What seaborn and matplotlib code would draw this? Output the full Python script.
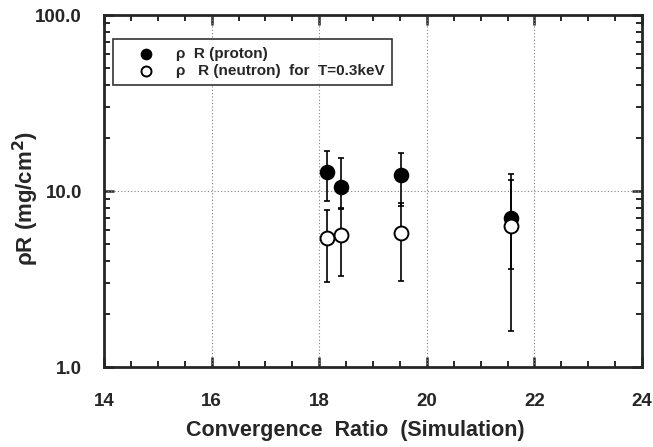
import matplotlib
matplotlib.use("Agg")
import matplotlib.pyplot as plt
import matplotlib.ticker as mticker
import seaborn as sns
import pandas as pd
import numpy as np

# Data
cr_proton = [18.15, 18.4, 19.52, 21.57]
rr_proton = [12.8, 10.5, 12.3, 7.0]
proton_hi = [16.8, 15.4, 16.4, 12.5]
proton_lo = [8.8, 7.9, 8.2, 3.6]

cr_neutron = [18.15, 18.4, 19.52, 21.57]
rr_neutron = [5.4, 5.6, 5.8, 6.3]
neutron_hi = [7.8, 8.0, 8.6, 11.5]
neutron_lo = [3.05, 3.3, 3.1, 1.6]

x_ticks = [14, 16, 18, 20, 22, 24]
y_ticks = [1.0, 10.0, 100.0]

sns.set_style("ticks")
plt.rcParams['font.family'] = ['Liberation Sans', 'DejaVu Sans']
plt.rcParams['font.weight'] = 'bold'

fig = plt.figure(figsize=(6.53, 4.47), dpi=100)
ax = fig.add_axes([104 / 653, 1 - 367 / 447, 538 / 653, 352 / 447])

dfp = pd.DataFrame({"x": cr_proton, "y": rr_proton})
dfn = pd.DataFrame({"x": cr_neutron, "y": rr_neutron})

ax.set_yscale("log")

# error bars
ax.errorbar(cr_proton, rr_proton,
            yerr=[np.array(rr_proton) - np.array(proton_lo), np.array(proton_hi) - np.array(rr_proton)],
            fmt='none', ecolor='black', elinewidth=1.2, capsize=2.5, capthick=1.2, zorder=2)
ax.errorbar(cr_neutron, rr_neutron,
            yerr=[np.array(rr_neutron) - np.array(neutron_lo), np.array(neutron_hi) - np.array(rr_neutron)],
            fmt='none', ecolor='black', elinewidth=1.2, capsize=2.5, capthick=1.2, zorder=2)

sns.scatterplot(data=dfp, x="x", y="y", ax=ax, marker='o', s=100, color='black',
                edgecolor='black', linewidth=1.2, label="\u03c1  R (proton)", zorder=3)
sns.scatterplot(data=dfn, x="x", y="y", ax=ax, marker='o', s=100, facecolor='white',
                edgecolor='black', linewidth=1.4, label="\u03c1   R (neutron)  for  T=0.3keV", zorder=3)

ax.set_xlim(14, 24)
ax.set_ylim(1, 100)
ax.set_xticks(x_ticks)
ax.xaxis.set_minor_locator(mticker.MultipleLocator(0.5))
ax.set_yticks(y_ticks)
ax.yaxis.set_major_formatter(mticker.FuncFormatter(lambda v, p: f"{v:.1f}"))
ax.yaxis.set_minor_locator(mticker.LogLocator(base=10, subs=np.arange(2, 10)))
ax.yaxis.set_minor_formatter(mticker.NullFormatter())

ax.tick_params(which='both', direction='in', top=True, right=True)
ax.tick_params(which='major', length=7, width=1.8, labelsize=13.5)
ax.tick_params(axis='x', which='major', pad=19)
ax.tick_params(axis='y', which='major', pad=16)
ax.tick_params(which='minor', length=4, width=1.4)
for s in ax.spines.values():
    s.set_linewidth(2)

for xv in [16, 18, 20, 22]:
    ax.axvline(xv, color='gray', linestyle=(0, (1, 2)), linewidth=0.8, zorder=1)
ax.axhline(10, color='gray', linestyle=(0, (1, 2)), linewidth=0.8, zorder=1)

for lab in ax.get_xticklabels() + ax.get_yticklabels():
    lab.set_fontweight('bold')

ax.set_xlabel("Convergence  Ratio  (Simulation)", fontsize=15.5, fontweight='bold')
ax.xaxis.set_label_coords(0.467, -0.15)
ax.xaxis.label.set_va('top')
ax.set_ylabel("\u03c1R (mg/cm$^\\mathbf{2}$)", fontsize=16, fontweight='bold')
ax.yaxis.set_label_coords(-0.117, 0.48)

leg = ax.legend(loc='upper left', bbox_to_anchor=(0.017, 0.932), frameon=True, fancybox=False,
                edgecolor='black', fontsize=11, handletextpad=0.32, borderpad=0.5,
                handlelength=3.3, labelspacing=0.2, borderaxespad=0, markerscale=0.72)
leg.get_frame().set_linewidth(1.2)
for t in leg.get_texts():
    t.set_fontweight('bold')

fig.savefig("out.png", dpi=100)
